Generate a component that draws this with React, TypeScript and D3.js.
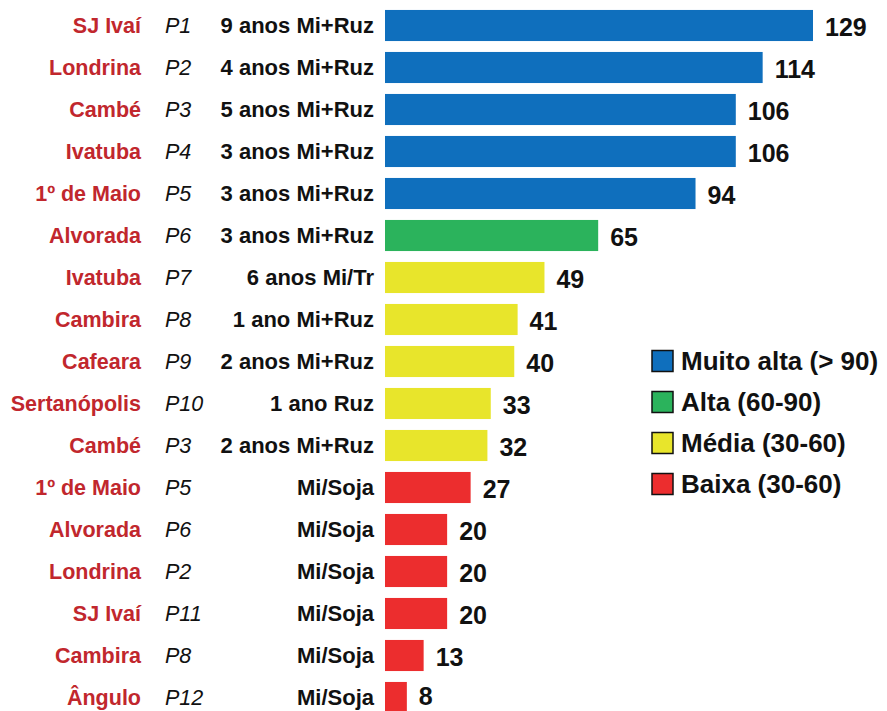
import React from "react";
import * as d3 from "d3";

const cities = ["SJ Ivaí","Londrina","Cambé","Ivatuba","1º de Maio","Alvorada","Ivatuba","Cambira","Cafeara","Sertanópolis","Cambé","1º de Maio","Alvorada","Londrina","SJ Ivaí","Cambira","Ângulo"];
const plots = ["P1","P2","P3","P4","P5","P6","P7","P8","P9","P10","P3","P5","P6","P2","P11","P8","P12"];
const treatments = ["9 anos Mi+Ruz","4 anos Mi+Ruz","5 anos Mi+Ruz","3 anos Mi+Ruz","3 anos Mi+Ruz","3 anos Mi+Ruz","6 anos Mi/Tr","1 ano Mi+Ruz","2 anos Mi+Ruz","1 ano Ruz","2 anos Mi+Ruz","Mi/Soja","Mi/Soja","Mi/Soja","Mi/Soja","Mi/Soja","Mi/Soja"];
const values = [129,114,106,106,94,65,49,41,40,33,32,27,20,20,20,13,8];
const classes = ["Muito alta","Muito alta","Muito alta","Muito alta","Muito alta","Alta","Média","Média","Média","Média","Média","Baixa","Baixa","Baixa","Baixa","Baixa","Baixa"];
const legendKeys = ["Muito alta","Alta","Média","Baixa"];
const legendLabels = ["Muito alta (> 90)","Alta (60-90)","Média (30-60)","Baixa (30-60)"];
const legendColors = ["#0f6fbd","#2bb35c","#e8e52b","#ec2d2e"];

export default function App() {
  const W = 887, H = 711;
  const color = d3.scaleOrdinal<string, string>().domain(legendKeys).range(legendColors);
  const x = d3.scaleLinear().domain([0, 129]).range([380, 813]);
  const barLeft = 385;
  const step = 42;
  const y = d3.scaleBand<number>()
    .domain(d3.range(values.length))
    .range([4.5, 4.5 + values.length * step])
    .paddingInner(0.26)
    .paddingOuter(0.13);
  const font = "'Liberation Sans', Arial, sans-serif";
  return (
    <svg width={W} height={H} style={{ position: "absolute", left: 0, top: 0, background: "#fff" }} fontFamily={font}>
      {values.map((v, i) => {
        const yc = (y(i) as number) + y.bandwidth() / 2;
        return (
          <g key={i}>
            <text x={141} y={yc} dy="0.35em" textAnchor="end" fontWeight="bold" fontSize={21.5} fill="#c1272d">{cities[i]}</text>
            <text x={165} y={yc} dy="0.35em" fontStyle="italic" fontSize={21.5} fill="#111">{plots[i]}</text>
            <text x={374} y={yc} dy="0.35em" textAnchor="end" fontWeight="bold" fontSize={22} fill="#111">{treatments[i]}</text>
            <rect x={barLeft} y={y(i)} width={x(v) - barLeft} height={y.bandwidth()} fill={color(classes[i])} />
            <text x={x(v) + 12} y={Math.min(yc + 1, 696)} dy="0.36em" fontWeight="bold" fontSize={25} fill="#111">{v}</text>
          </g>
        );
      })}
      {legendLabels.map((l, i) => {
        const yc = 361 + i * 41;
        return (
          <g key={l}>
            <rect x={652} y={yc - 10.5} width={21} height={21} fill={legendColors[i]} stroke="#111" strokeWidth={1.5} />
            <text x={681} y={yc} dy="0.36em" fontWeight="bold" fontSize={26} fill="#111">{l}</text>
          </g>
        );
      })}
    </svg>
  );
}
